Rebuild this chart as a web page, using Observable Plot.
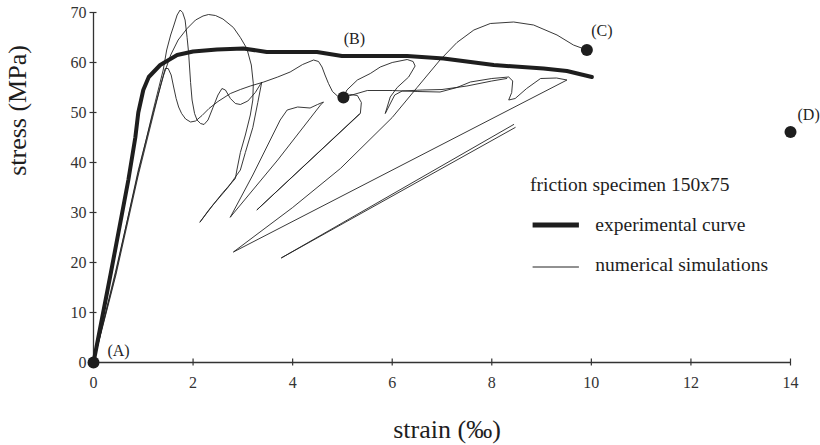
<!DOCTYPE html>
<html>
<head>
<meta charset="utf-8">
<script src="https://cdn.jsdelivr.net/npm/d3@7"></script>
<script src="https://cdn.jsdelivr.net/npm/@observablehq/plot@0.6"></script>
<style>
  html, body { margin: 0; padding: 0; background: #ffffff; }
  #chart svg { display: block; }
</style>
</head>
<body>
<div id="chart"></div>
<script>
// ---------- data ----------
const xTicks = [0, 2, 4, 6, 8, 10, 12, 14];
const yTicks = [0, 10, 20, 30, 40, 50, 60, 70];

// experimental curve (strain ‰, stress MPa)
const expStrain = [0, 0.35, 0.7, 0.84, 0.9, 1.0, 1.11, 1.34, 1.68, 2.0, 2.48, 3.01, 3.48, 4.49, 4.99, 6.3, 7.03, 8.04, 9.04, 9.51, 10.01];
const expStress = [0, 18, 36.5, 45, 50, 54.5, 57.1, 59.5, 61.5, 62.2, 62.6, 62.8, 62.1, 62.1, 61.3, 61.3, 60.8, 59.5, 58.8, 58.3, 57.1];

// numerical simulations: [strain, stress] pairs
const sim1 = [[0,0],[0.45,18.5],[0.9,38],[1.2,50.5],[1.4,58.5],[1.47,62.5],[1.55,65.5],[1.61,67.3],[1.68,69.5],[1.74,70.5],[1.79,70],[1.84,68.5],[1.88,65],[1.91,62],[1.95,56],[1.98,52.5],[2.03,49.8],[2.08,48.5],[2.15,47.8],[2.22,47.6],[2.3,48.5],[2.4,51],[2.5,53.5],[2.58,54.8],[2.65,54.5],[2.75,52.8],[2.85,51.8],[2.95,51.6],[3.1,52.3],[3.25,54],[3.38,56.1],[3.3,52],[3.2,47],[3.05,42],[2.95,38.5],[2.7,35],[2.4,31.5],[2.14,28.1]];
const sim2 = [[0,0],[0.45,18],[0.9,38.5],[1.2,50],[1.41,57.5],[1.55,61.5],[1.7,64.5],[1.88,66.8],[2.05,68.5],[2.2,69.3],[2.31,69.6],[2.45,69.4],[2.6,68.7],[2.81,67],[2.95,65],[3.08,62.8],[3.17,59.5],[3.21,55.8],[3.2,52.5],[3.15,49.5],[3.05,45.5],[2.95,42],[2.88,38.5],[2.85,36.8],[2.6,34],[2.3,30.3],[2.14,28.1]];
const sim3 = [[0,0],[0.45,17.5],[0.9,37.5],[1.2,49.5],[1.35,55.5],[1.44,58.8],[1.5,58.8],[1.56,57.5],[1.61,55.1],[1.66,52.8],[1.71,51.1],[1.77,49.8],[1.85,48.7],[1.95,48.1],[2.05,48.3],[2.18,49.4],[2.32,50.8],[2.5,52.2],[2.75,53.8],[2.95,54.6],[3.15,55.3],[3.42,56.1],[3.7,57.1],[3.95,58.1],[4.2,59.6],[4.42,60.5],[4.52,60.2],[4.59,59.1],[4.65,57.5],[4.72,55.8],[4.8,54.2],[4.9,53.3],[5.02,53],[5.09,54.5],[5.3,56.5],[5.56,57.8],[5.76,59.1],[6.0,60],[6.3,60.6],[6.42,60.2],[6.46,59.3],[6.33,57.1],[6.1,55],[5.96,53.1],[5.86,49.8],[6.05,53.5],[6.2,54.3],[6.6,54.5],[7.0,54.6],[7.5,55.3],[8.0,56.3],[8.3,56.8]];
const sim4 = [[5.02,53],[5.5,54.4],[6.0,54.4],[6.5,54.2],[6.96,54.1],[7.3,55],[7.57,56.1],[8.0,56.8],[8.34,57.1],[8.42,56.3],[8.4,54],[8.34,52.5],[8.47,52.8],[8.7,54.8],[8.98,56.8],[9.3,56.9],[9.51,56.5],[2.81,22.1],[4.0,31],[4.96,38.8],[6.0,49],[6.5,55],[6.96,60.5],[7.3,64],[7.64,66.5],[7.97,67.8],[8.44,68.1],[8.84,67.5],[9.31,65.5],[9.64,63.5],[9.91,62.5]];
const sim5 = [[2.75,29.1],[3.2,37.5],[3.55,44.5],[3.75,48.5],[3.89,50.5],[4.1,51.1],[4.35,50.9],[4.5,51.6],[4.62,52.1],[4.56,51.5],[3.7,40.5],[2.75,29.1]];
const sim6 = [[5.02,53],[5.16,53.6],[5.3,53.4],[5.38,52],[5.36,49.8],[3.28,30.5],[5.34,49.7]];
const sim7 = [[8.47,47.0],[3.77,20.9],[8.44,47.6]];

// marked states
const pointNames = ["(A)", "(B)", "(C)", "(D)"];
const pointStrain = [0, 5.02, 9.91, 14.0];
const pointStress = [0, 53.0, 62.5, 46.1];

// legend texts
const legendTitle = "friction specimen 150x75";
const legendLabels = ["experimental curve", "numerical simulations"];

// ---------- tables ----------
const expData = expStrain.map((x, i) => ({x, y: expStress[i]}));
const sims = [sim1, sim2, sim3, sim4, sim5, sim6, sim7];
const simData = sims.flatMap((s, k) => s.map(([x, y]) => ({x, y, run: "sim" + (k + 1)})));
const pts = pointNames.map((name, i) => ({name, x: pointStrain[i], y: pointStress[i]}));
// label offsets (pixels) relative to each marked point
const labelOffsets = [[25, -12], [11, -59], [15, -19], [7, -17]];

const ink = "#1e1e1e";
const font = "'Liberation Serif', 'Times New Roman', Times, serif";

const chart = Plot.plot({
  width: 820,
  height: 445,
  marginLeft: 93,
  marginRight: 30,
  marginTop: 12,
  marginBottom: 83,
  x: {domain: [0, 14], axis: null},
  y: {domain: [0, 70], axis: null},
  style: {fontFamily: font, background: "#ffffff", color: ink, overflow: "visible"},
  marks: [
    // axis lines
    Plot.ruleX([0], {y1: 0, y2: 70, stroke: "#333", strokeWidth: 1.3}),
    Plot.ruleY([0], {x1: 0, x2: 14, stroke: "#333", strokeWidth: 1.3}),
    // ticks crossing the axes
    Plot.ruleY(yTicks, {y: d => d, x1: 0, x2: 0, insetLeft: -3.5, insetRight: -3.5, stroke: "#333", strokeWidth: 1.2}),
    Plot.ruleX(xTicks, {x: d => d, y1: 0, y2: 0, insetTop: -3.5, insetBottom: -3.5, stroke: "#333", strokeWidth: 1.2}),
    // tick labels
    Plot.text(yTicks, {x: 0, y: d => d, text: d => String(d), dx: -7, textAnchor: "end", fontSize: 16, fill: "#333"}),
    Plot.text(xTicks, {x: d => d, y: 0, text: d => String(d), dy: 20, fontSize: 16, fill: "#333"}),
    // axis titles
    Plot.text(["strain (‰)"], {frameAnchor: "bottom", textAnchor: "middle", lineAnchor: "middle", dx: 5, dy: 67, fontSize: 26, fill: ink}),
    Plot.text(["stress (MPa)"], {frameAnchor: "top-left", textAnchor: "middle", lineAnchor: "middle", dx: -76, dy: 98, rotate: -90, fontSize: 26, fill: ink}),
    // simulations
    Plot.line(simData, {x: "x", y: "y", z: "run", stroke: "#222", strokeWidth: 0.9, curve: "linear"}),
    // experimental
    Plot.line(expData, {x: "x", y: "y", stroke: ink, strokeWidth: 4, curve: "linear", strokeLinejoin: "round"}),
    // marked states
    Plot.dot(pts, {x: "x", y: "y", r: 6, fill: ink, stroke: "none"}),
    ...pts.map((p, i) => Plot.text([p], {x: "x", y: "y", text: "name", dx: labelOffsets[i][0], dy: labelOffsets[i][1], textAnchor: i === 3 ? "start" : "middle", fontSize: 16, fill: ink})),
    // legend
    Plot.text([legendTitle], {x: 8.77, y: 35.6, textAnchor: "start", fontSize: 19.5, fill: ink}),
    Plot.ruleY([27.5], {x1: 8.83, x2: 9.76, stroke: ink, strokeWidth: 5}),
    Plot.ruleY([19.1], {x1: 8.83, x2: 9.76, stroke: "#222", strokeWidth: 1}),
    Plot.text([legendLabels[0]], {x: 10.08, y: 27.6, textAnchor: "start", fontSize: 19.5, fill: ink}),
    Plot.text([legendLabels[1]], {x: 10.08, y: 19.6, textAnchor: "start", fontSize: 19.5, fill: ink})
  ]
});
document.getElementById("chart").appendChild(chart);
</script>
</body>
</html>
